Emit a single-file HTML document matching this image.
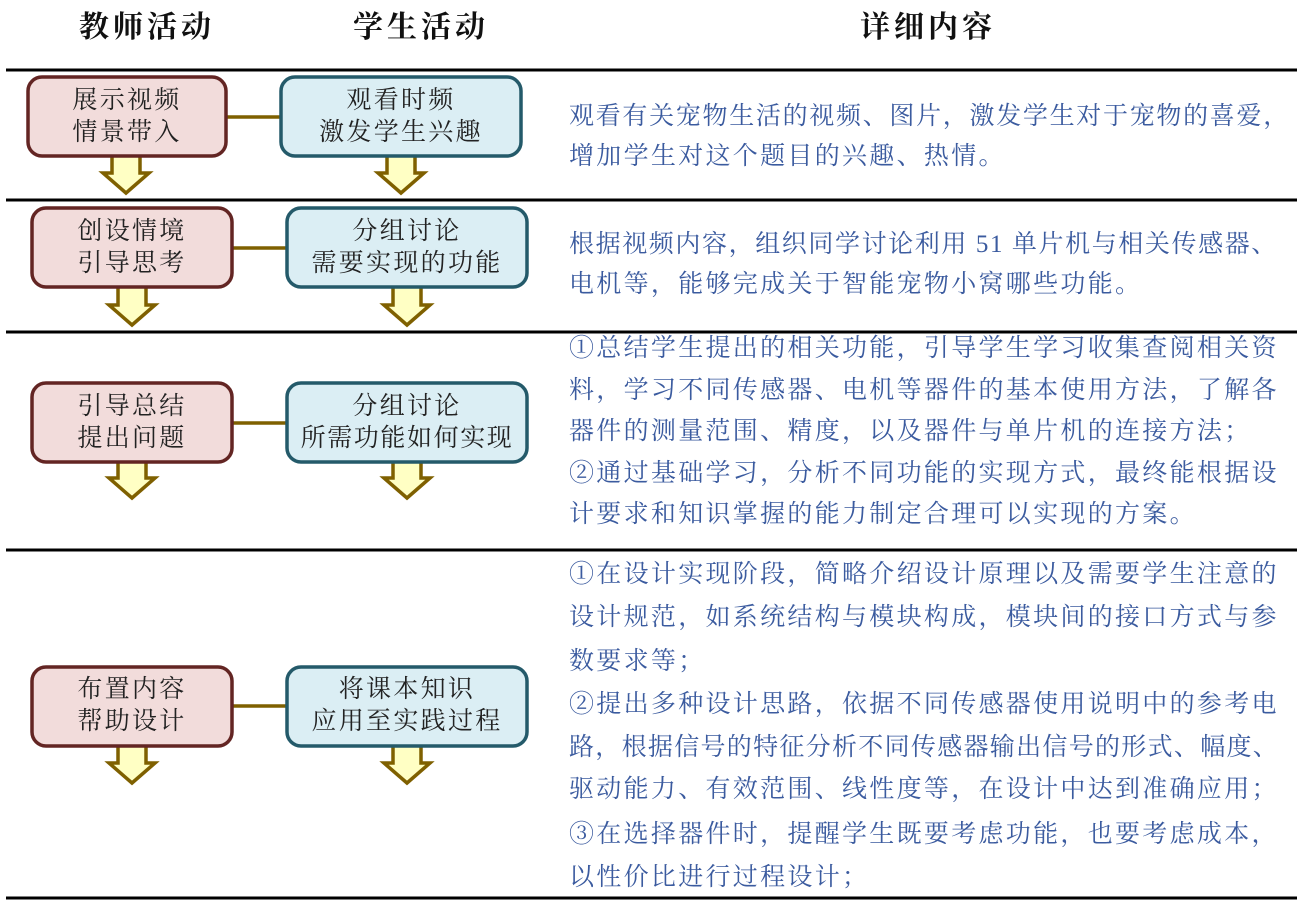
<!DOCTYPE html>
<html>
<head>
<meta charset="utf-8">
<style>
  html,body{margin:0;padding:0;background:#fff;}
  body{width:1297px;height:900px;position:relative;overflow:hidden;}
  svg{position:absolute;left:0;top:0;}
  .h{position:absolute;font-family:"Liberation Serif","Noto Serif CJK SC",serif;font-weight:700;font-size:30px;letter-spacing:4px;line-height:40px;height:40px;color:#111;white-space:nowrap;text-align:center;width:240px;}
  .b{position:absolute;font-family:"Liberation Serif","Noto Serif CJK SC",serif;font-size:25px;letter-spacing:2.3px;line-height:32px;height:32px;color:#222;white-space:nowrap;text-align:center;}
  .t{position:absolute;left:569px;font-family:"Liberation Serif","Noto Serif CJK SC",serif;font-size:25px;letter-spacing:2.3px;line-height:36px;height:36px;color:#3b5b9f;white-space:nowrap;}
</style>
</head>
<body>
<svg width="1297" height="900" viewBox="0 0 1297 900">
  <g stroke="#000" stroke-width="3">
    <line x1="6" y1="70" x2="1297" y2="70"/>
    <line x1="6" y1="200" x2="1297" y2="200"/>
    <line x1="6" y1="332" x2="1297" y2="332"/>
    <line x1="6" y1="550" x2="1297" y2="550"/>
    <line x1="6" y1="898" x2="1297" y2="898"/>
  </g>

  <g fill="#ffffc4" stroke="#7f6000" stroke-width="3.5" stroke-linejoin="miter">
    <polygon points="112,154 140,154 140,173 149,173 126,193 103,173 112,173"/>
    <polygon points="387,154 415,154 415,173 424,173 401,193 378,173 387,173"/>
    <polygon points="118,285 146,285 146,305 155,305 132,325 109,305 118,305"/>
    <polygon points="393,285 421,285 421,305 430,305 407,325 384,305 393,305"/>
    <polygon points="118,460 146,460 146,478 155,478 132,498 109,478 118,478"/>
    <polygon points="393,460 421,460 421,478 430,478 407,498 384,478 393,478"/>
    <polygon points="118,744 146,744 146,763 155,763 132,783 109,763 118,763"/>
    <polygon points="393,744 421,744 421,763 430,763 407,783 384,763 393,763"/>
  </g>

  <g stroke="#7f6000" stroke-width="3.5">
    <line x1="226" y1="117" x2="281" y2="117"/>
    <line x1="232" y1="248" x2="287" y2="248"/>
    <line x1="232" y1="423" x2="287" y2="423"/>
    <line x1="232" y1="706" x2="287" y2="706"/>
  </g>

  <g fill="#f2dcdb" stroke="#632523" stroke-width="3.5">
    <rect x="28" y="77" width="198" height="79" rx="14" ry="14"/>
    <rect x="32" y="208" width="200" height="79" rx="14" ry="14"/>
    <rect x="32" y="383" width="200" height="79" rx="14" ry="14"/>
    <rect x="32" y="667" width="200" height="79" rx="14" ry="14"/>
  </g>
  <g fill="#dbeef4" stroke="#245a6a" stroke-width="3.5">
    <rect x="281" y="77" width="240" height="79" rx="14" ry="14"/>
    <rect x="287" y="208" width="240" height="79" rx="14" ry="14"/>
    <rect x="287" y="383" width="240" height="79" rx="14" ry="14"/>
    <rect x="287" y="667" width="240" height="79" rx="14" ry="14"/>
  </g>
</svg>

<div class="h" style="left:27px;top:8px;">教师活动</div>
<div class="h" style="left:301px;top:8px;">学生活动</div>
<div class="h" style="left:808px;top:8px;">详细内容</div>

<div class="b" style="left:27px;width:200px;top:85px;">展示视频</div>
<div class="b" style="left:27px;width:200px;top:117px;">情景带入</div>
<div class="b" style="left:281px;width:240px;top:85px;">观看时频</div>
<div class="b" style="left:281px;width:240px;top:117px;">激发学生兴趣</div>

<div class="b" style="left:32px;width:200px;top:216px;">创设情境</div>
<div class="b" style="left:32px;width:200px;top:248px;">引导思考</div>
<div class="b" style="left:287px;width:240px;top:216px;">分组讨论</div>
<div class="b" style="left:287px;width:240px;top:248px;">需要实现的功能</div>

<div class="b" style="left:32px;width:200px;top:391px;">引导总结</div>
<div class="b" style="left:32px;width:200px;top:423px;">提出问题</div>
<div class="b" style="left:287px;width:240px;top:391px;">分组讨论</div>
<div class="b" style="left:287px;width:240px;top:423px;letter-spacing:1.6px;">所需功能如何实现</div>

<div class="b" style="left:32px;width:200px;top:674px;">布置内容</div>
<div class="b" style="left:32px;width:200px;top:706px;">帮助设计</div>
<div class="b" style="left:287px;width:240px;top:674px;">将课本知识</div>
<div class="b" style="left:287px;width:240px;top:706px;">应用至实践过程</div>

<div class="t" style="top:99px;letter-spacing:1.7px;">观看有关宠物生活的视频、图片，激发学生对于宠物的喜爱，</div>
<div class="t" style="top:139px;">增加学生对这个题目的兴趣、热情。</div>

<div class="t" style="top:227px;letter-spacing:1.6px;">根据视频内容，组织同学讨论利用 51 单片机与相关传感器、</div>
<div class="t" style="top:267px;">电机等，能够完成关于智能宠物小窝哪些功能。</div>

<div class="t" style="top:331px;">①总结学生提出的相关功能，引导学生学习收集查阅相关资</div>
<div class="t" style="top:373px;">料，学习不同传感器、电机等器件的基本使用方法，了解各</div>
<div class="t" style="top:414px;">器件的测量范围、精度，以及器件与单片机的连接方法；</div>
<div class="t" style="top:456px;">②通过基础学习，分析不同功能的实现方式，最终能根据设</div>
<div class="t" style="top:497px;">计要求和知识掌握的能力制定合理可以实现的方案。</div>

<div class="t" style="top:557px;">①在设计实现阶段，简略介绍设计原理以及需要学生注意的</div>
<div class="t" style="top:600px;">设计规范，如系统结构与模块构成，模块间的接口方式与参</div>
<div class="t" style="top:644px;">数要求等；</div>
<div class="t" style="top:687px;">②提出多种设计思路，依据不同传感器使用说明中的参考电</div>
<div class="t" style="top:730px;letter-spacing:1.3px;">路，根据信号的特征分析不同传感器输出信号的形式、幅度、</div>
<div class="t" style="top:772px;">驱动能力、有效范围、线性度等，在设计中达到准确应用；</div>
<div class="t" style="top:817px;">③在选择器件时，提醒学生既要考虑功能，也要考虑成本，</div>
<div class="t" style="top:860px;">以性价比进行过程设计；</div>
</body>
</html>
